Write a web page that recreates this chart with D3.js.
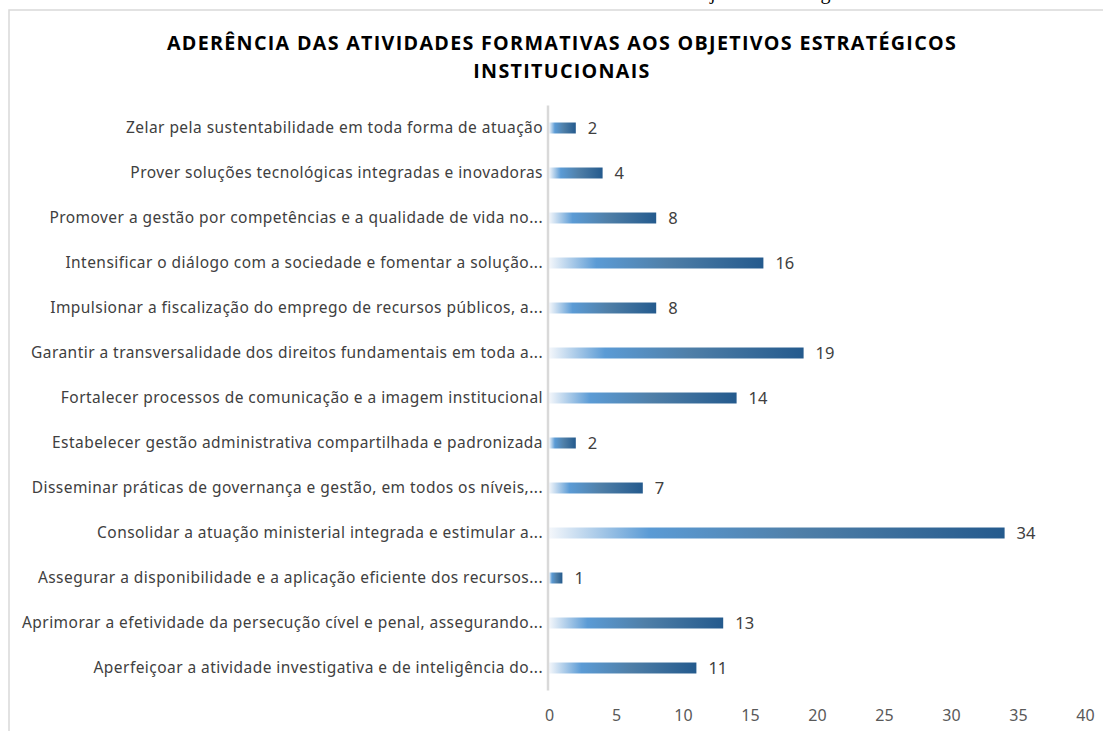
<!DOCTYPE html>
<html>
<head>
<meta charset="utf-8">
<script src="https://cdn.jsdelivr.net/npm/d3@7"></script>
<style>
  body { margin: 0; background: #fff; }
</style>
</head>
<body>
<div id="chart-area"></div>
<script>
// data, top row first
const categories = [
    "Zelar pela sustentabilidade em toda forma de atuação",
    "Prover soluções tecnológicas integradas e inovadoras",
    "Promover a gestão por competências e a qualidade de vida no...",
    "Intensificar o diálogo com a sociedade e fomentar a solução...",
    "Impulsionar a fiscalização do emprego de recursos públicos, a...",
    "Garantir a transversalidade dos direitos fundamentais em toda a...",
    "Fortalecer processos de comunicação e a imagem institucional",
    "Estabelecer gestão administrativa compartilhada e padronizada",
    "Disseminar práticas de governança e gestão, em todos os níveis,...",
    "Consolidar a atuação ministerial integrada e estimular a...",
    "Assegurar a disponibilidade e a aplicação eficiente dos recursos...",
    "Aprimorar a efetividade da persecução cível e penal, assegurando...",
    "Aperfeiçoar a atividade investigativa e de inteligência do..."
];
const values = [2, 4, 8, 16, 8, 19, 14, 2, 7, 34, 1, 13, 11];
const xTicks = [0, 5, 10, 15, 20, 25, 30, 35, 40];
const titleLines = ["ADERÊNCIA DAS ATIVIDADES FORMATIVAS AOS OBJETIVOS ESTRATÉGICOS", "INSTITUCIONAIS"];

const width = 1103, height = 731;
const plotLeft = 549, plotRight = 1085, plotTop = 105.5, plotBottom = 690.5;

const svg = d3.select("#chart-area").append("svg")
    .attr("width", width)
    .attr("height", height)

// gradient used by every bar
const grad = svg.append("defs").append("linearGradient")
    .attr("id", "barGrad")
    .attr("x1", "0%").attr("x2", "100%")
    .attr("y1", "0%").attr("y2", "0%")
grad.append("stop").attr("offset", "0%").attr("stop-color", "#f4f7fb")
grad.append("stop").attr("offset", "22%").attr("stop-color", "#5b9bd5")
grad.append("stop").attr("offset", "55%").attr("stop-color", "#4f7fa8")
grad.append("stop").attr("offset", "100%").attr("stop-color", "#245a8d")

// text of the page above, cut by the crop
svg.append("text")
    .attr("x", 690)
    .attr("y", -1)
    .attr("font-family", "Liberation Serif, serif")
    .attr("font-size", "20px")
    .attr("fill", "#000")
    .text("objetivos estratégicos")

// chart frame
svg.append("rect")
    .attr("x", 9)
    .attr("y", 10)
    .attr("width", width)
    .attr("height", height)
    .attr("fill", "none")
    .attr("stroke", "#d9d9d9")
    .attr("stroke-width", 1.5)

// title
svg.selectAll(".title").data(titleLines).enter().append("text")
    .attr("class", "title")
    .attr("x", 562)
    .attr("y", (d, i) => 50 + i * 28)
    .attr("text-anchor", "middle")
    .attr("font-family", "Open Sans, sans-serif")
    .attr("font-weight", "bold")
    .attr("font-size", "19.7px")
    .attr("letter-spacing", "1.3px")
    .attr("fill", "#000")
    .text(d => d)

const x = d3.scaleLinear()
    .domain([0, 40])
    .range([plotLeft, plotRight])

const y = d3.scaleBand()
    .domain(categories)
    .range([plotTop, plotBottom])
    .paddingInner(0.756)
    .paddingOuter(0.378)

// x axis labels only
const xAxis = svg.append("g")
    .attr("transform", `translate(0, ${plotBottom})`)
    .call(d3.axisBottom(x).tickValues(xTicks).tickSize(0).tickPadding(19))
xAxis.select(".domain").remove()
xAxis.selectAll("text")
    .attr("font-family", "Noto Sans, sans-serif")
    .attr("font-size", "16px")
    .attr("fill", "#595959")

// category labels
const yAxis = svg.append("g")
    .attr("transform", `translate(${plotLeft - 6}, 0)`)
    .call(d3.axisLeft(y).tickSize(0).tickPadding(0))
yAxis.select(".domain").remove()
yAxis.selectAll("text")
    .attr("font-family", "Noto Sans, sans-serif")
    .attr("font-size", "15.5px")
    .attr("letter-spacing", "0.45px")
    .attr("fill", "#404040")

// bars
svg.selectAll(".bar").data(values).enter().append("rect")
    .attr("class", "bar")
    .attr("x", x(0))
    .attr("y", (d, i) => y(categories[i]))
    .attr("width", d => x(d) - x(0))
    .attr("height", y.bandwidth())
    .attr("fill", "url(#barGrad)")

// value labels
svg.selectAll(".val").data(values).enter().append("text")
    .attr("class", "val")
    .attr("x", d => x(d) + 12)
    .attr("y", (d, i) => y(categories[i]) + y.bandwidth() / 2)
    .attr("dy", "0.38em")
    .attr("font-family", "Noto Sans, sans-serif")
    .attr("font-size", "16.5px")
    .attr("fill", "#404040")
    .text(d => d)

// vertical axis line
svg.append("line")
    .attr("x1", plotLeft - 1).attr("x2", plotLeft - 1)
    .attr("y1", plotTop).attr("y2", plotBottom)
    .attr("stroke", "#d9d9d9")
    .attr("stroke-width", 2.5)
</script>
</body>
</html>
